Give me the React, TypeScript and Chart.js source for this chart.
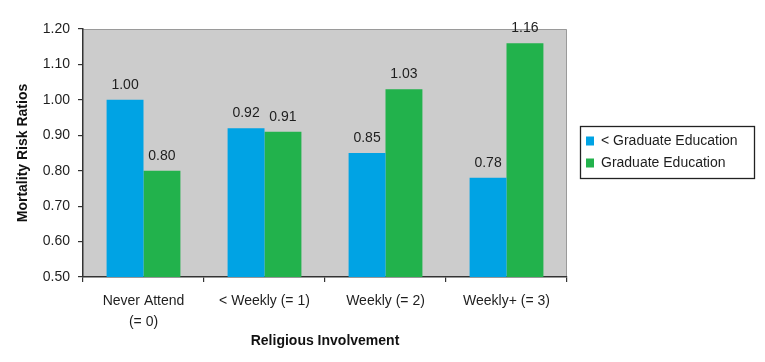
import React, { useEffect, useRef } from 'react';
import { Chart, registerables } from 'chart.js';

Chart.register(...registerables);

const categories: (string | string[])[] = [['Never Attend', '(= 0)'], '< Weekly (= 1)', 'Weekly (= 2)', 'Weekly+ (= 3)'];
const belowGraduate = [1.0, 0.92, 0.85, 0.78];
const graduate = [0.8, 0.91, 1.03, 1.16];
const seriesNames = ['< Graduate Education', 'Graduate Education'];
const yMin = 0.5;
const yMax = 1.2;
const yStep = 0.1;

const BLUE = '#00a3e4';
const GREEN = '#22b24c';
const TEXT = '#1e1e1e';
const FONT = 'Arial, "Liberation Sans", sans-serif';

const plotBg = {
  id: 'plotBg',
  beforeDraw(chart: any) {
    const { ctx, chartArea: a } = chart;
    ctx.save();
    ctx.fillStyle = '#cccccc';
    ctx.fillRect(a.left, a.top, a.right - a.left, a.bottom - a.top);
    ctx.strokeStyle = '#9a9a9a';
    ctx.lineWidth = 1;
    ctx.beginPath();
    ctx.moveTo(a.left, a.top + 0.5);
    ctx.lineTo(a.right - 0.5, a.top + 0.5);
    ctx.lineTo(a.right - 0.5, a.bottom);
    ctx.stroke();
    ctx.restore();
  },
};

const valueLabels = {
  id: 'valueLabels',
  afterDatasetsDraw(chart: any) {
    const { ctx } = chart;
    ctx.save();
    ctx.font = `14px ${FONT}`;
    ctx.fillStyle = TEXT;
    ctx.textAlign = 'center';
    ctx.textBaseline = 'bottom';
    chart.data.datasets.forEach((ds: any, i: number) => {
      const meta = chart.getDatasetMeta(i);
      meta.data.forEach((el: any, j: number) => {
        ctx.fillText(Number(ds.data[j]).toFixed(2), el.x, el.y - 8);
      });
    });
    ctx.restore();
  },
};

const boxedLegend = {
  id: 'boxedLegend',
  afterDraw(chart: any) {
    const { ctx, chartArea: a } = chart;
    const left = a.right + 13;
    const width = 174;
    const height = 52;
    const top = (a.top + a.bottom) / 2 - height / 2 - 1;
    ctx.save();
    ctx.fillStyle = '#ffffff';
    ctx.fillRect(left, top, width, height);
    ctx.strokeStyle = '#222';
    ctx.lineWidth = 1.3;
    ctx.strokeRect(left + 0.5, top + 0.5, width, height);
    ctx.font = `14px ${FONT}`;
    ctx.textBaseline = 'middle';
    ctx.textAlign = 'left';
    chart.data.datasets.forEach((ds: any, i: number) => {
      const cy = top + 15 + i * 22;
      ctx.fillStyle = ds.backgroundColor;
      ctx.fillRect(left + 6, cy - 4.5, 8, 9);
      ctx.fillStyle = TEXT;
      ctx.fillText(ds.label, left + 21, cy + 0.5);
    });
    ctx.restore();
  },
};

export default function App() {
  const ref = useRef<HTMLCanvasElement | null>(null);

  useEffect(() => {
    if (!ref.current) return;
    const chart = new Chart(ref.current, {
      type: 'bar',
      data: {
        labels: categories as any,
        datasets: [
          { label: seriesNames[0], data: belowGraduate, backgroundColor: BLUE, categoryPercentage: 0.61, barPercentage: 1.0 },
          { label: seriesNames[1], data: graduate, backgroundColor: GREEN, categoryPercentage: 0.61, barPercentage: 1.0 },
        ],
      },
      options: {
        animation: false,
        responsive: true,
        maintainAspectRatio: false,
        layout: { padding: { left: 0, right: 198, top: 29, bottom: 0 } },
        plugins: {
          legend: { display: false },
          tooltip: { enabled: false },
        },
        scales: {
          x: {
            grid: { display: true, offset: true, drawOnChartArea: false, drawTicks: true, tickLength: 5, color: '#333', lineWidth: 1.2 },
            border: { display: true, color: '#333', width: 1.5 },
            ticks: { color: TEXT, font: { family: FONT, size: 14, lineHeight: 1.55 }, padding: 8, maxRotation: 0, autoSkip: false },
            title: { display: true, text: 'Religious Involvement', color: '#111', font: { family: FONT, size: 14, weight: 'bold' }, padding: { top: 0, bottom: 12 } },
            afterFit(scale: any) { scale.height = 85; },
          },
          y: {
            min: yMin,
            max: yMax,
            grid: { display: true, drawOnChartArea: false, drawTicks: true, tickLength: 5, color: '#333', lineWidth: 1.2 },
            border: { display: true, color: '#333', width: 1.5 },
            ticks: { stepSize: yStep, color: TEXT, font: { family: FONT, size: 14 }, padding: 8, callback: (v: any) => Number(v).toFixed(2) },
            title: { display: true, text: 'Mortality Risk Ratios', color: '#111', font: { family: FONT, size: 14, weight: 'bold' }, padding: { top: 15, bottom: 0 } },
            afterFit(scale: any) { scale.width = 83; },
          },
        },
      },
      plugins: [plotBg, valueLabels, boxedLegend],
    });
    return () => chart.destroy();
  }, []);

  return (
    <div style={{ position: 'fixed', left: 0, top: 0, width: 765, height: 362, background: '#fff' }}>
      <canvas ref={ref} />
    </div>
  );
}
